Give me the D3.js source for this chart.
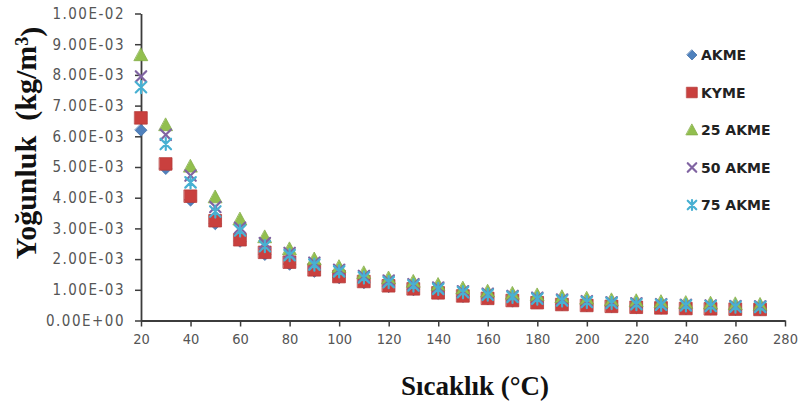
<!DOCTYPE html>
<html>
<head>
<meta charset="utf-8">
<script src="https://cdn.jsdelivr.net/npm/d3@7"></script>
<style>
  body { margin: 0; background: #ffffff; }
  svg { display: block; }
</style>
</head>
<body>
<svg id="chart" width="805" height="405"></svg>
<script>
// Temperature (°C) at which each density was measured
const temperatures = [20, 30, 40, 50, 60, 70, 80, 90, 100, 110, 120, 130, 140,
                      150, 160, 170, 180, 190, 200, 210, 220, 230, 240, 250, 260, 270];

// Density (kg/m³) per fuel
const akme = [6.20e-3, 4.95e-3, 3.92e-3, 3.15e-3, 2.58e-3, 2.15e-3, 1.83e-3, 1.60e-3, 1.39e-3,
              1.23e-3, 1.10e-3, 1.00e-3, 0.88e-3, 0.78e-3, 0.70e-3, 0.63e-3, 0.57e-3, 0.51e-3,
              0.48e-3, 0.45e-3, 0.42e-3, 0.40e-3, 0.38e-3, 0.37e-3, 0.36e-3, 0.35e-3];
const kyme = [6.60e-3, 5.10e-3, 4.05e-3, 3.25e-3, 2.63e-3, 2.22e-3, 1.90e-3, 1.65e-3, 1.43e-3,
              1.27e-3, 1.13e-3, 1.03e-3, 0.90e-3, 0.80e-3, 0.72e-3, 0.65e-3, 0.58e-3, 0.52e-3,
              0.49e-3, 0.46e-3, 0.43e-3, 0.41e-3, 0.39e-3, 0.38e-3, 0.37e-3, 0.36e-3];
const akme25 = [8.65e-3, 6.37e-3, 5.02e-3, 4.02e-3, 3.30e-3, 2.72e-3, 2.33e-3, 2.00e-3, 1.75e-3,
                1.55e-3, 1.38e-3, 1.27e-3, 1.17e-3, 1.05e-3, 0.95e-3, 0.88e-3, 0.83e-3, 0.77e-3,
                0.72e-3, 0.67e-3, 0.64e-3, 0.61e-3, 0.58e-3, 0.56e-3, 0.54e-3, 0.52e-3];
const akme50 = [7.95e-3, 6.05e-3, 4.72e-3, 3.70e-3, 3.02e-3, 2.52e-3, 2.20e-3, 1.88e-3, 1.65e-3,
                1.45e-3, 1.30e-3, 1.18e-3, 1.07e-3, 0.95e-3, 0.87e-3, 0.80e-3, 0.74e-3, 0.68e-3,
                0.63e-3, 0.59e-3, 0.56e-3, 0.53e-3, 0.51e-3, 0.49e-3, 0.47e-3, 0.46e-3];
const akme75 = [7.60e-3, 5.75e-3, 4.50e-3, 3.55e-3, 2.93e-3, 2.42e-3, 2.13e-3, 1.82e-3, 1.60e-3,
                1.40e-3, 1.25e-3, 1.14e-3, 1.03e-3, 0.92e-3, 0.84e-3, 0.77e-3, 0.71e-3, 0.65e-3,
                0.60e-3, 0.57e-3, 0.53e-3, 0.51e-3, 0.49e-3, 0.47e-3, 0.45e-3, 0.44e-3];

const seriesNames = ["AKME", "KYME", "25 AKME", "50 AKME", "75 AKME"];
const seriesValues = [akme, kyme, akme25, akme50, akme75];
const seriesColors = ["#4F81BD", "#C9403E", "#92BF4E", "#8064A2", "#48B0D2"];
const seriesShapes = ["diamond", "square", "triangle", "cross", "star"];

const xTicks = [20, 40, 60, 80, 100, 120, 140, 160, 180, 200, 220, 240, 260, 280];
const yTicks = [0, 1e-3, 2e-3, 3e-3, 4e-3, 5e-3, 6e-3, 7e-3, 8e-3, 9e-3, 1e-2];
const yTickLabels = ["0.00E+00", "1.00E-03", "2.00E-03", "3.00E-03", "4.00E-03", "5.00E-03",
                     "6.00E-03", "7.00E-03", "8.00E-03", "9.00E-03", "1.00E-02"];

const xTitle = "Sıcaklık (°C)";
const yTitle = "Yoğunluk  (kg/m";

// ---- drawing ----
const svg = d3.select("#chart");
const x = d3.scaleLinear().domain([20, 280]).range([141, 785]);
const y = d3.scaleLinear().domain([0, 0.01]).range([320.5, 13.5]);

const axisColor = "#3c3c3c";
const tickFont = "'DejaVu Sans Condensed', 'DejaVu Sans', sans-serif";

// x axis
const gx = svg.append("g")
  .attr("transform", `translate(0,${y(0)})`)
  .call(d3.axisBottom(x).tickValues(xTicks).tickSize(6).tickSizeOuter(0).tickPadding(7)
        .tickFormat((d, i) => String(xTicks[i])));
gx.select(".domain").attr("stroke", axisColor).attr("stroke-width", 1.8);
gx.selectAll(".tick line").attr("stroke", axisColor).attr("stroke-width", 1.5);
gx.selectAll(".tick text")
  .attr("fill", "#555555")
  .style("font-family", tickFont)
  .style("font-stretch", "condensed")
  .style("font-size", "14.5px");

// y axis
const gy = svg.append("g")
  .attr("transform", `translate(${x(20)},0)`)
  .call(d3.axisLeft(y).tickValues(yTicks).tickSize(6).tickSizeOuter(0).tickPadding(10)
        .tickFormat((d, i) => yTickLabels[i]));
gy.select(".domain").attr("stroke", axisColor).attr("stroke-width", 1.8);
gy.selectAll(".tick line").attr("stroke", axisColor).attr("stroke-width", 1.5);
gy.selectAll(".tick text")
  .attr("fill", "#555555")
  .style("font-family", tickFont)
  .style("font-stretch", "condensed")
  .style("font-size", "15px")
  .style("letter-spacing", "1.5px");

// marker shapes, centred on (0,0)
function markerPath(shape, s) {
  const h = s / 2;
  switch (shape) {
    case "diamond": return `M0,${-h}L${h},0L0,${h}L${-h},0Z`;
    case "square": return `M${-h},${-h}H${h}V${h}H${-h}Z`;
    case "triangle": return `M0,${-h}L${h},${h * 0.85}L${-h},${h * 0.85}Z`;
    case "cross": return `M${-h},${-h}L${h},${h}M${h},${-h}L${-h},${h}`;
    case "star": return `M${-h},${-h}L${h},${h}M${h},${-h}L${-h},${h}M0,${-h * 1.15}V${h * 1.15}`;
  }
}
const markerSize = { diamond: 12, square: 12.5, triangle: 13.5, cross: 10.5, star: 10.5 };
const isStroked = shape => shape === "cross" || shape === "star";

function drawMarker(sel, shape, color, size) {
  sel.append("path")
    .attr("d", markerPath(shape, size))
    .attr("fill", isStroked(shape) ? "none" : color)
    .attr("stroke", isStroked(shape) ? color : d3.color(color).darker(0.3))
    .attr("stroke-width", isStroked(shape) ? 2.2 : 0.8)
    .attr("stroke-linecap", "round");
}

// data points
seriesValues.forEach((vals, si) => {
  const g = svg.append("g").attr("class", "series");
  temperatures.forEach((t, i) => {
    const m = g.append("g").attr("transform", `translate(${x(t)},${y(vals[i])})`);
    drawMarker(m, seriesShapes[si], seriesColors[si], markerSize[seriesShapes[si]]);
  });
});

// legend
const legend = svg.append("g").attr("transform", "translate(692,55)");
seriesNames.forEach((name, i) => {
  const row = legend.append("g").attr("transform", `translate(0,${i * 37.5})`);
  drawMarker(row, seriesShapes[i], seriesColors[i], markerSize[seriesShapes[i]] - 2);
  row.append("text")
    .attr("x", 9)
    .attr("dy", "0.36em")
    .attr("fill", "#222222")
    .style("font-family", "'DejaVu Sans', sans-serif")
    .style("font-weight", "bold")
    .style("font-size", "14px")
    .text(name);
});

// axis titles
svg.append("text")
  .attr("x", 475)
  .attr("y", 395)
  .attr("text-anchor", "middle")
  .attr("fill", "#111111")
  .style("font-family", "'Liberation Serif', 'Times New Roman', serif")
  .style("font-weight", "bold")
  .style("font-size", "27px")
  .text(xTitle);

const yt = svg.append("text")
  .attr("transform", "translate(36,143) rotate(-90)")
  .attr("text-anchor", "middle")
  .attr("fill", "#111111")
  .style("font-family", "'Liberation Serif', 'Times New Roman', serif")
  .style("font-weight", "bold")
  .style("font-size", "30px")
  .style("white-space", "pre");
yt.append("tspan").text(yTitle);
yt.append("tspan").attr("dy", "-0.45em").style("font-size", "18px").text("3");
yt.append("tspan").attr("dy", "0.45em").text(")");
</script>
</body>
</html>
